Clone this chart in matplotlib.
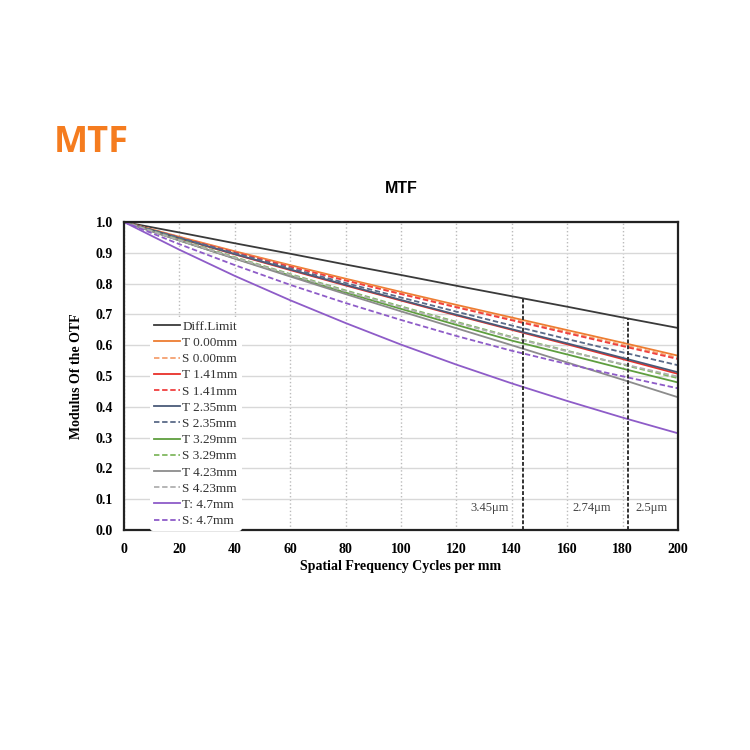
import matplotlib

matplotlib.use("Agg")
import matplotlib.pyplot as plt

# spatial frequency samples (cycles/mm)
freq = [0, 20, 40, 60, 80, 100, 120, 140, 160, 180, 200]

diff_limit = [1.0, 0.966, 0.931, 0.897, 0.862, 0.828, 0.793, 0.759, 0.725, 0.690, 0.656]
t_000 = [1.0, 0.952, 0.905, 0.860, 0.816, 0.773, 0.731, 0.690, 0.649, 0.608, 0.566]
s_000 = [1.0, 0.951, 0.903, 0.857, 0.812, 0.768, 0.726, 0.685, 0.643, 0.601, 0.560]
t_141 = [1.0, 0.947, 0.895, 0.844, 0.794, 0.745, 0.697, 0.650, 0.603, 0.555, 0.507]
s_141 = [1.0, 0.950, 0.902, 0.855, 0.810, 0.766, 0.723, 0.681, 0.639, 0.597, 0.555]
t_235 = [1.0, 0.948, 0.896, 0.846, 0.796, 0.747, 0.699, 0.652, 0.606, 0.559, 0.512]
s_235 = [1.0, 0.949, 0.899, 0.850, 0.802, 0.755, 0.709, 0.664, 0.620, 0.577, 0.535]
t_329 = [1.0, 0.940, 0.882, 0.826, 0.771, 0.718, 0.666, 0.615, 0.570, 0.524, 0.479]
s_329 = [1.0, 0.943, 0.886, 0.831, 0.778, 0.726, 0.676, 0.627, 0.582, 0.537, 0.493]
t_423 = [1.0, 0.940, 0.881, 0.823, 0.766, 0.710, 0.655, 0.600, 0.544, 0.488, 0.431]
s_423 = [1.0, 0.941, 0.884, 0.829, 0.775, 0.723, 0.673, 0.625, 0.580, 0.539, 0.498]
t_470 = [1.0, 0.910, 0.825, 0.746, 0.672, 0.602, 0.537, 0.476, 0.419, 0.365, 0.314]
s_470 = [1.0, 0.928, 0.860, 0.796, 0.737, 0.682, 0.630, 0.582, 0.539, 0.499, 0.460]

# pixel-size markers: frequency, top of line (on diff limit), labels
marker_freq = [144, 182]
marker_top = [0.750, 0.688]
pixel_labels = ["3.45μm", "2.74μm", "2.5μm"]
pixel_label_x = [132, 169, 190.5]

series = [
    ("Diff.Limit", diff_limit, "#3a3a3a", "-"),
    ("T 0.00mm", t_000, "#ED7D31", "-"),
    ("S 0.00mm", s_000, "#F4A070", "--"),
    ("T 1.41mm", t_141, "#E8302A", "-"),
    ("S 1.41mm", s_141, "#F04040", "--"),
    ("T 2.35mm", t_235, "#4A5A78", "-"),
    ("S 2.35mm", s_235, "#5A6A88", "--"),
    ("T 3.29mm", t_329, "#5E9E3E", "-"),
    ("S 3.29mm", s_329, "#80B860", "--"),
    ("T 4.23mm", t_423, "#8C8C8C", "-"),
    ("S 4.23mm", s_423, "#B0B0B0", "--"),
    ("T: 4.7mm", t_470, "#8E5CC8", "-"),
    ("S: 4.7mm", s_470, "#8E5CC8", "--"),
]

serif = ["Liberation Serif", "DejaVu Serif"]

fig = plt.figure(figsize=(7.5, 7.5), dpi=100)
ax = fig.add_axes([0.1653, 0.2933, 0.7387, 0.4107])

for label, vals, color, ls in series:
    ax.plot(freq, vals, color=color, linestyle=ls, lw=1.3,
            dashes=(3, 1.5) if ls == "--" else (None, None), label=label)

for f, top in zip(marker_freq, marker_top):
    ax.plot([f, f], [0, top], color="#333333", lw=1.4, dashes=(2, 1))

for txt, x in zip(pixel_labels, pixel_label_x):
    ax.text(x, 0.073, txt, ha="center", va="center", fontsize=9,
            family=serif, color="#444444")

ax.set_xlim(0, 200)
ax.set_ylim(0, 1.0)
ax.set_xticks(range(0, 201, 20))
ax.set_yticks([i / 10 for i in range(11)])
ax.set_yticklabels([f"{i / 10:.1f}" for i in range(11)])

ax.yaxis.grid(True, color="#d8d8d8", lw=1.0, linestyle="-")
ax.xaxis.grid(True, color="#bbbbbb", lw=1.0, linestyle=":")
ax.set_axisbelow(True)

for s in ax.spines.values():
    s.set_linewidth(1.6)
    s.set_color("#222222")

ax.tick_params(length=0)
ax.tick_params(axis="x", pad=9)
ax.tick_params(axis="y", pad=8)
for lbl in ax.get_xticklabels() + ax.get_yticklabels():
    lbl.set_family(serif)
    lbl.set_fontweight("bold")
    lbl.set_fontsize(10)

ax.set_xlabel("Spatial Frequency Cycles per mm", family=serif,
              fontweight="bold", fontsize=10, labelpad=3)
ax.set_ylabel("Modulus Of the OTF", family=serif,
              fontweight="bold", fontsize=10, labelpad=9)
ax.set_title("MTF", fontsize=11.5, fontweight="bold", family="Liberation Sans",
             pad=21)

leg = ax.legend(loc="lower left", bbox_to_anchor=(0.035, -0.025), frameon=True,
                prop={"family": serif, "size": 9.5}, handlelength=2.0,
                labelspacing=0.3, handletextpad=0.15, borderpad=0.3)
leg.get_frame().set_facecolor("white")
leg.get_frame().set_edgecolor("none")
leg.get_frame().set_alpha(1)
for t in leg.get_texts():
    t.set_color("#333333")

fig.text(0.072, 0.809, "MTF", color="#F57C1F", fontsize=26,
         fontweight="bold", family="Open Sans", va="center")

fig.savefig("out.png", dpi=100, facecolor="white")
